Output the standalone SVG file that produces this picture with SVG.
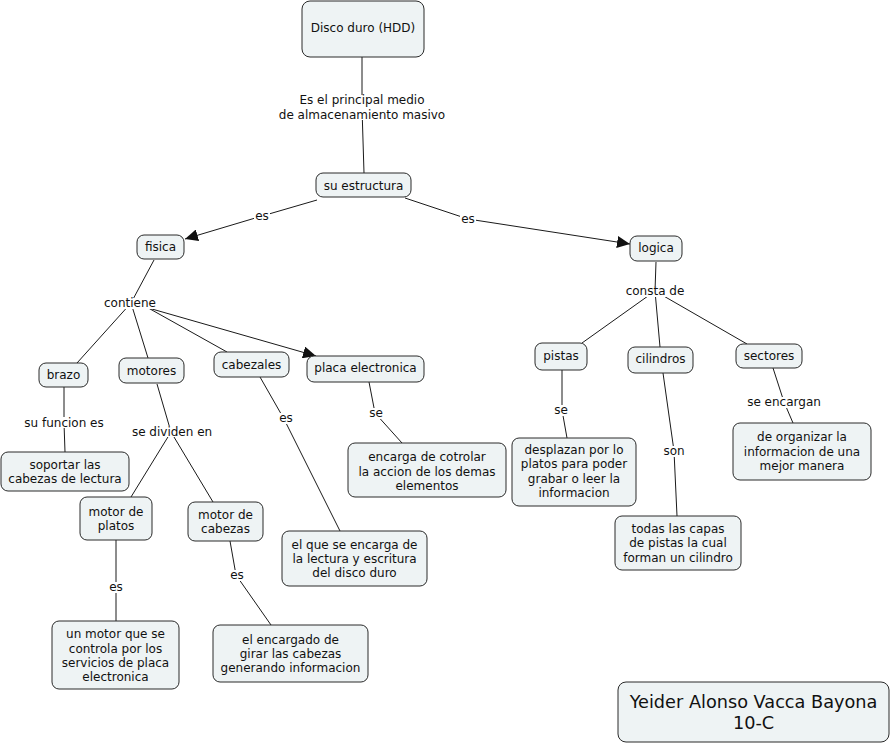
<svg xmlns="http://www.w3.org/2000/svg" width="892" height="745" viewBox="0 0 892 745">
<style>
text{font-family:"DejaVu Sans",Verdana,sans-serif;font-size:12px;text-anchor:middle;fill:#111}
.n rect{fill:#eef3f4;stroke:#2a2a2a;stroke-width:1}
.c path{stroke:#1a1a1a;stroke-width:1;fill:none}
.lb{fill:#fff}
.big{font-size:17.7px}
</style>
<defs>
<marker id="ar" markerUnits="userSpaceOnUse" markerWidth="14" markerHeight="12" refX="13" refY="6" orient="auto">
<path d="M0,0 L13,6 L0,12 Z" fill="#111"/>
</marker>
</defs>
<rect width="892" height="745" fill="#fff"/>
<g id="connectors" class="c">
<path d="M362,57 L362,108 L364,173"/>
<path d="M317,200 L262,216 L185,239" marker-end="url(#ar)"/>
<path d="M405,198 L468,219 L630,244" marker-end="url(#ar)"/>
<path d="M154,260 L131,303"/>
<path d="M131,303 L77,363"/>
<path d="M131,303 L148,358"/>
<path d="M134,300 L227,352"/>
<path d="M131,303 L316,356" marker-end="url(#ar)"/>
<path d="M64,387 L64,423 L65,452"/>
<path d="M157,384 L171,432 L131,497"/>
<path d="M171,432 L213,502"/>
<path d="M116,540 L116,587 L116,621"/>
<path d="M230,541 L236,575 L271,625"/>
<path d="M260,377 L284,419 L340,531"/>
<path d="M369,382 L375,413 L402,443"/>
<path d="M656,262 L655,291"/>
<path d="M655,291 L582,343"/>
<path d="M655,291 L660,347"/>
<path d="M655,291 L747,344"/>
<path d="M562,370 L562,410 L567,438"/>
<path d="M663,373 L674,451 L677,516"/>
<path d="M773,368 L784,402 L793,423"/>
<g id="labels">
<rect class="lb" x="280" y="95" width="164" height="25"/>
<text x="362" y="104">Es el principal medio</text>
<text x="362" y="119">de almacenamiento masivo</text>
<rect class="lb" x="254" y="210" width="16" height="11"/>
<text x="262" y="220">es</text>
<rect class="lb" x="460" y="213" width="16" height="11"/>
<text x="468" y="223">es</text>
<rect class="lb" x="104" y="298" width="53" height="11"/>
<text x="130" y="307">contiene</text>
<rect class="lb" x="24" y="417" width="80" height="11"/>
<text x="64" y="427">su funcion es</text>
<rect class="lb" x="132" y="426" width="81" height="11"/>
<text x="172" y="436">se dividen en</text>
<rect class="lb" x="279" y="413" width="15" height="11"/>
<text x="286" y="422">es</text>
<rect class="lb" x="368" y="408" width="15" height="11"/>
<text x="376" y="417">se</text>
<rect class="lb" x="109" y="582" width="15" height="11"/>
<text x="116" y="591">es</text>
<rect class="lb" x="229" y="570" width="15" height="11"/>
<text x="237" y="579">es</text>
<rect class="lb" x="625" y="286" width="60" height="11"/>
<text x="655" y="295">consta de</text>
<rect class="lb" x="554" y="405" width="15" height="11"/>
<text x="561" y="414">se</text>
<rect class="lb" x="663" y="446" width="22" height="11"/>
<text x="674" y="455">son</text>
<rect class="lb" x="747" y="397" width="75" height="11"/>
<text x="784" y="406">se encargan</text>
</g>
</g>
<g id="n-disco" class="n"><rect x="302" y="1" width="122" height="56" rx="8"/><text x="363" y="32">Disco duro (HDD)</text></g>
<g id="n-estructura" class="n"><rect x="316" y="173" width="95" height="24" rx="7"/><text x="363.5" y="190">su estructura</text></g>
<g id="n-fisica" class="n"><rect x="137" y="235" width="47" height="24" rx="7"/><text x="160.5" y="251">fisica</text></g>
<g id="n-logica" class="n"><rect x="630" y="236" width="52" height="25" rx="7"/><text x="656" y="252">logica</text></g>
<g id="n-brazo" class="n"><rect x="39" y="363" width="49" height="24" rx="7"/><text x="63.5" y="379">brazo</text></g>
<g id="n-motores" class="n"><rect x="119" y="358" width="65" height="25" rx="7"/><text x="151.5" y="375">motores</text></g>
<g id="n-cabezales" class="n"><rect x="214" y="352" width="75" height="25" rx="7"/><text x="251.5" y="369">cabezales</text></g>
<g id="n-placa" class="n"><rect x="307" y="356" width="117" height="26" rx="7"/><text x="365.5" y="372">placa electronica</text></g>
<g id="n-soportar" class="n"><rect x="1" y="452" width="128" height="39" rx="7"/><text x="65" y="469">soportar las</text><text x="65" y="483">cabezas de lectura</text></g>
<g id="n-motorplatos" class="n"><rect x="80" y="497" width="72" height="43" rx="7"/><text x="116" y="516">motor de</text><text x="116" y="530">platos</text></g>
<g id="n-motorcabezas" class="n"><rect x="188" y="502" width="75" height="39" rx="7"/><text x="225.5" y="519">motor de</text><text x="225.5" y="533">cabezas</text></g>
<g id="n-unmotor" class="n"><rect x="52" y="621" width="127" height="68" rx="7"/><text x="115.5" y="638">un motor que se</text><text x="115.5" y="652.5">controla por los</text><text x="115.5" y="667">servicios de placa</text><text x="115.5" y="681">electronica</text></g>
<g id="n-encargado" class="n"><rect x="213" y="625" width="155" height="57" rx="7"/><text x="290.5" y="644">el encargado de</text><text x="290.5" y="658">girar las cabezas</text><text x="290.5" y="672">generando informacion</text></g>
<g id="n-elque" class="n"><rect x="282" y="531" width="145" height="55" rx="7"/><text x="354.5" y="549">el que se encarga de</text><text x="354.5" y="563">la lectura y escritura</text><text x="354.5" y="577">del disco duro</text></g>
<g id="n-encarga" class="n"><rect x="348" y="443" width="158" height="54" rx="7"/><text x="427" y="461">encarga de cotrolar</text><text x="427" y="476">la accion de los demas</text><text x="427" y="490">elementos</text></g>
<g id="n-pistas" class="n"><rect x="535" y="343" width="52" height="27" rx="7"/><text x="561" y="360">pistas</text></g>
<g id="n-cilindros" class="n"><rect x="628" y="347" width="65" height="26" rx="7"/><text x="660.5" y="363">cilindros</text></g>
<g id="n-sectores" class="n"><rect x="736" y="344" width="66" height="24" rx="7"/><text x="769" y="360">sectores</text></g>
<g id="n-desplazan" class="n"><rect x="512" y="438" width="124" height="68" rx="7"/><text x="574" y="454">desplazan por lo</text><text x="574" y="468">platos para poder</text><text x="574" y="483">grabar o leer la</text><text x="574" y="497">informacion</text></g>
<g id="n-todas" class="n"><rect x="615" y="516" width="126" height="54" rx="7"/><text x="678" y="533">todas las capas</text><text x="678" y="547">de pistas la cual</text><text x="678" y="562">forman un cilindro</text></g>
<g id="n-organizar" class="n"><rect x="733" y="423" width="138" height="57" rx="7"/><text x="802" y="441">de organizar la</text><text x="802" y="456">informacion de una</text><text x="802" y="470">mejor manera</text></g>
<g id="n-autor" class="n"><rect x="618" y="682" width="271" height="60" rx="8"/><text class="big" x="753.5" y="708">Yeider Alonso Vacca Bayona</text><text class="big" x="753.5" y="729">10-C</text></g>
</svg>
